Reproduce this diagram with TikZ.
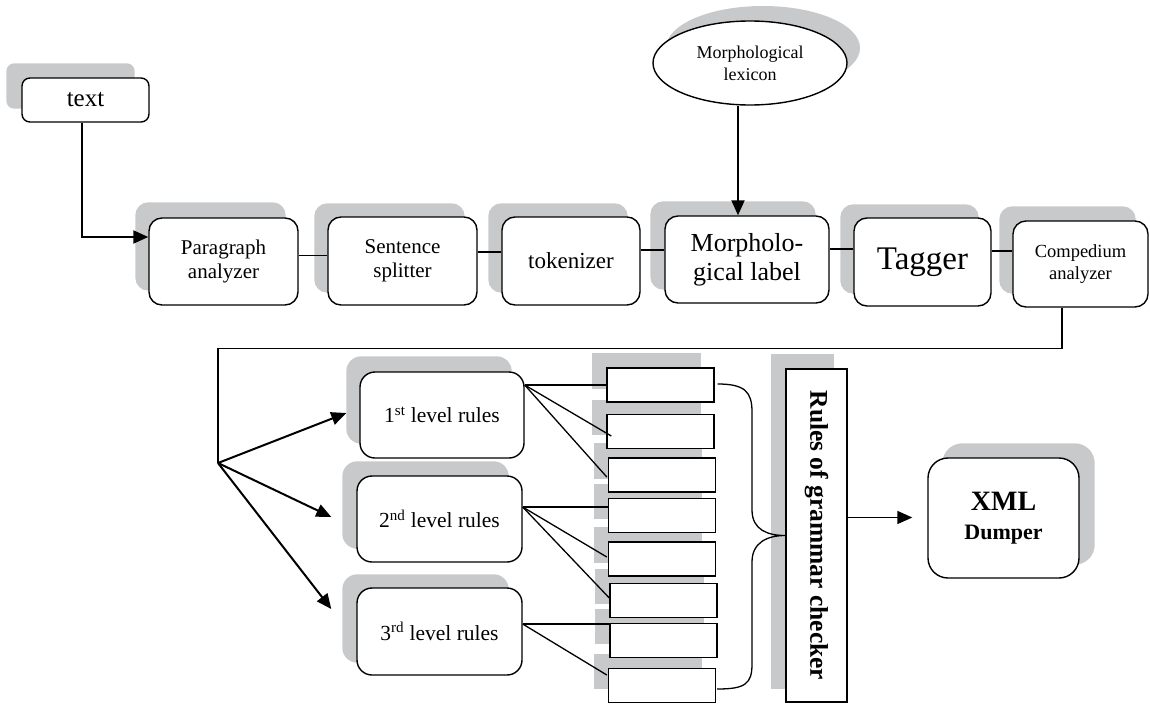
\documentclass[tikz,border=0pt]{standalone}
\usepackage{fontspec}
\setmainfont{Liberation Serif}
\usetikzlibrary{arrows.meta,calc,shapes.geometric}
\pgfdeclarelayer{background}
\pgfsetlayers{background,main}
\definecolor{shadowgray}{HTML}{C8C9CB}

\begin{document}
\begin{tikzpicture}[x=1pt,y=-1pt,
  box/.style={draw, line width=1.4pt, fill=white, rounded corners=13pt,
    align=center, inner sep=0pt},
  slot/.style={draw, line width=1.4pt, fill=white, minimum width=107pt,
    minimum height=34pt, inner sep=0pt},
  wire/.style={line width=1.3pt},
  arr/.style={line width=2pt, -{Triangle[length=15pt,width=13pt]}},
]
\useasboundingbox (0,0) rectangle (1150,704);

% ---- input and top pipeline ----
\node[box, rounded corners=8pt, minimum width=127pt, minimum height=44pt,
      font=\fontsize{25}{29}\selectfont] (txt) at (85.5,100) {text};

\node[draw, line width=1.4pt, fill=white, ellipse, minimum width=194pt,
      minimum height=84pt, inner sep=0pt, align=center,
      font=\fontsize{18}{22}\selectfont] (lex) at (750,63) {Morphological\\lexicon};

\node[box, minimum width=149pt, minimum height=87pt,
      font=\fontsize{21}{24}\selectfont] (para) at (223.5,261.5) {Paragraph\\analyzer};
\node[box, minimum width=149pt, minimum height=88pt,
      font=\fontsize{21}{24}\selectfont] (sent) at (402.5,261) {Sentence\\splitter};
\node[box, minimum width=138pt, minimum height=88pt,
      font=\fontsize{23}{26}\selectfont] (tok) at (571,261) {tokenizer};
\node[box, minimum width=164pt, minimum height=87pt,
      font=\fontsize{26}{29}\selectfont] (morph) at (747,259.5) {Morpholo-\\gical label};
\node[box, minimum width=137pt, minimum height=88pt,
      font=\fontsize{33}{36}\selectfont] (tag) at (922.5,262) {Tagger};
\node[box, minimum width=135pt, minimum height=86pt,
      font=\fontsize{18.5}{22}\selectfont] (comp) at (1080.5,264) {Compedium\\analyzer};

% ---- rule levels ----
\node[box, rounded corners=15pt, minimum width=164pt, minimum height=86pt,
      font=\fontsize{21.5}{25}\selectfont] (L1) at (442,415) {1\textsuperscript{st} level rules};
\node[box, rounded corners=15pt, minimum width=165pt, minimum height=86pt,
      font=\fontsize{21.5}{25}\selectfont] (L2) at (439.5,519) {2\textsuperscript{nd} level rules};
\node[box, rounded corners=15pt, minimum width=165pt, minimum height=87pt,
      font=\fontsize{21.5}{25}\selectfont] (L3) at (439.5,631.5) {3\textsuperscript{rd} level rules};

% ---- rule slots ----
\node[slot] (b1) at (660.5,385) {};
\node[slot] (b2) at (660.5,431.5) {};
\node[slot] (b3) at (662,475) {};
\node[slot] (b4) at (662,515.5) {};
\node[slot] (b5) at (662,559) {};
\node[slot] (b6) at (663.5,600.5) {};
\node[slot] (b7) at (663.5,640.5) {};
\node[slot] (b8) at (662,685.5) {};

\node[draw, line width=1.4pt, fill=white, minimum width=61pt, minimum height=333pt,
      inner sep=0pt] (rules) at (816.5,535.5)
      {\rotatebox{-90}{\fontsize{25.5}{30}\selectfont\bfseries Rules of grammar checker}};

\node[box, rounded corners=20pt, minimum width=151pt, minimum height=120pt,
      font=\fontsize{22}{29}\selectfont\bfseries] (xml) at (1003.5,518)
      {{\fontsize{28}{29}\selectfont XML}\\Dumper};

% ---- drop shadows ----
\begin{pgfonlayer}{background}
  \foreach \n/\dx/\dy/\r in {txt/-15/-14/8, para/-13/-15/13, sent/-13/-13/13,
      tok/-13/-13/13, morph/-14/-14/13, tag/-13/-13/13, comp/-13/-14/13,
      L1/-13/-15/15, L2/-14/-14/15, L3/-14/-13/15, xml/15/-14/20}
    \fill[shadowgray, rounded corners=\r pt] ([shift={(\dx,\dy)}]\n.south west)
      rectangle ([shift={(\dx,\dy)}]\n.north east);
  \foreach \n in {b1,b2,b3,b4,b5,b6,b7,b8,rules}
    \fill[shadowgray] ([shift={(-14,-14)}]\n.south west)
      rectangle ([shift={(-14,-14)}]\n.north east);
  \fill[shadowgray] ([shift={(13,-15)}]lex.center) ellipse [x radius=97, y radius=42];
\end{pgfonlayer}

% ---- connectors, top row ----
\draw[arr] ([xshift=-3.5pt]txt.south) |- ([yshift=24.5pt]para.west);
\draw[arr] ([xshift=-12pt]lex.south) -- ([xshift=-12pt]lex.south |- morph.north);
\draw[wire] ([yshift=6pt]para.east) -- ([yshift=6pt]para.east -| sent.west);
\draw[wire] ([yshift=9pt]sent.east) -- ([yshift=9pt]sent.east -| tok.west);
\draw[wire] ([yshift=11pt]tok.east) -- ([yshift=11pt]tok.east -| morph.west);
\draw[wire] ([yshift=10.5pt]morph.east) -- ([yshift=10.5pt]morph.east -| tag.west);
\draw[wire] ([yshift=11pt]tag.east) -- ([yshift=11pt]tag.east -| comp.west);

% ---- feed into the rule levels ----
\coordinate (fan) at (218,463);
\draw[wire] ([xshift=-18.5pt]comp.south) -- ++(0,41) -| (fan);
\draw[arr] (fan) -- ($(L1.west)+(-13,-2)$);
\draw[arr] (fan) -- ($(L2.west)+(-25,-2)$);
\draw[arr] (fan) -- ($(L3.west)+(-25,-22.5)$);

% ---- level rules to slots ----
\coordinate (o1) at ([yshift=30pt]L1.east);
\coordinate (o2) at ([yshift=12pt]L2.east);
\coordinate (o3) at ([yshift=7.5pt]L3.east);
\draw[wire] (o1) -- (o1 -| b1.west);
\draw[wire] (o1) -- ($(b2.west)+(5,4.5)$);
\draw[wire] (o1) -- ($(b3.west)+(-1,2)$);
\draw[wire] (o2) -- (o2 -| b4.west);
\draw[wire] (o2) -- ($(b5.west)+(-1,-2)$);
\draw[wire] (o2) -- ($(b6.west)+(0,-2.5)$);
\draw[wire] (o3) -- (o3 -| b7.west);
\draw[wire] (o3) -- ($(b8.west)+(-1,-10.5)$);

% ---- brace gathering the slots ----
\coordinate (bt) at ($(b1.east)+(3,-1)$);
\coordinate (bb) at ($(b8.east)+(1,3.5)$);
\draw[wire] (bt) .. controls (745,384) and (752,392) .. (752,412)
  -- (752,510) .. controls (752,530) and (768,535.5) .. (rules.west)
  .. controls (768,535.5) and (752,542) .. (752,562)
  -- (752,664) .. controls (752,684) and (745,689) .. (bb);

% ---- output ----
\draw[arr, line width=1.6pt, shorten >=15pt] ([yshift=18pt]rules.east)
  -- ([yshift=18pt]rules.east -| xml.west);
\end{tikzpicture}
\end{document}
